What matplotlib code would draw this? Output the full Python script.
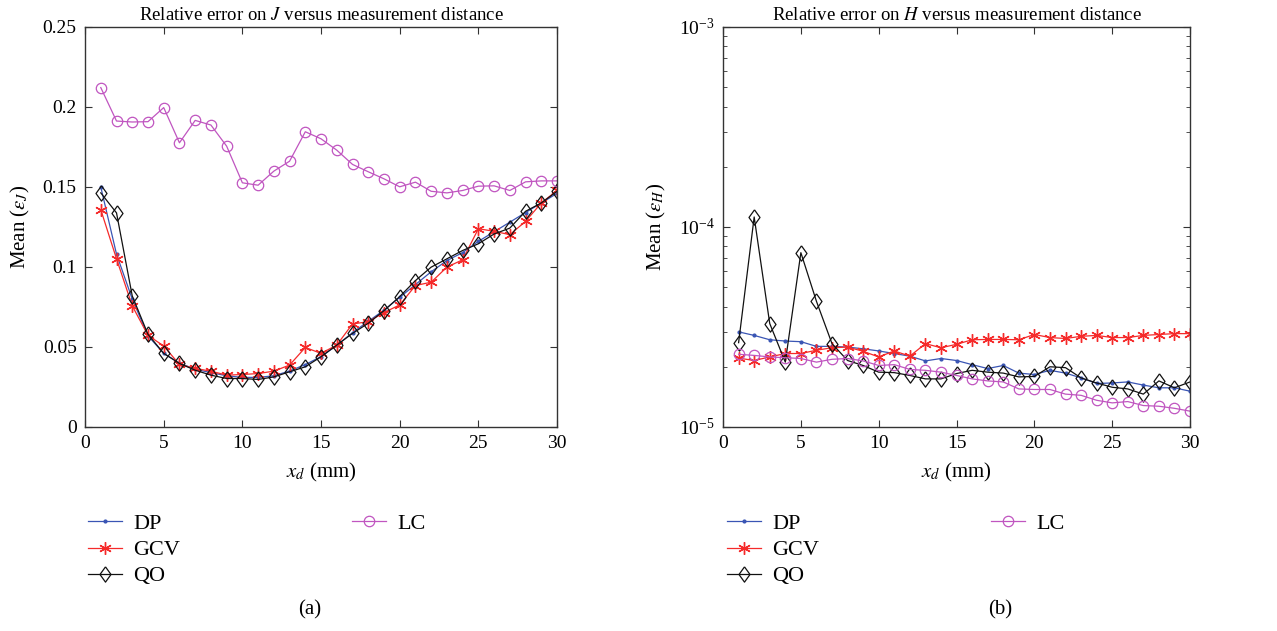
import numpy as np
import matplotlib
matplotlib.use("Agg")
import matplotlib.pyplot as plt
from matplotlib.lines import Line2D

plt.rcParams['font.family'] = ['Liberation Serif', 'DejaVu Serif']
plt.rcParams['mathtext.fontset'] = 'stix'

xd = list(range(1, 31))

# panel (a): mean relative error on J
j_dp = [0.150, 0.108, 0.080, 0.057, 0.046, 0.040, 0.036, 0.034, 0.032, 0.031,
        0.031, 0.032, 0.035, 0.039, 0.044, 0.051, 0.059, 0.066, 0.073, 0.081,
        0.089, 0.097, 0.104, 0.109, 0.116, 0.122, 0.128, 0.134, 0.140, 0.146]
j_gcv = [0.1358, 0.1051, 0.0757, 0.0573, 0.0506, 0.0391, 0.0366, 0.0349, 0.0324, 0.0328,
         0.0334, 0.0349, 0.0387, 0.0497, 0.0460, 0.0512, 0.0644, 0.0658, 0.0715, 0.0763,
         0.0884, 0.0905, 0.0999, 0.1045, 0.1239, 0.1223, 0.1202, 0.1285, 0.1400, 0.1478]
j_qo = [0.1463, 0.1338, 0.0819, 0.0579, 0.0460, 0.0397, 0.0355, 0.0324, 0.0303, 0.0303,
        0.0297, 0.0313, 0.0345, 0.0376, 0.0439, 0.0512, 0.0585, 0.0648, 0.0727, 0.0815,
        0.0915, 0.0999, 0.1051, 0.1103, 0.1145, 0.1206, 0.1243, 0.1348, 0.1400, 0.1473]
j_lc = [0.2121, 0.1912, 0.1906, 0.1908, 0.1996, 0.1776, 0.1916, 0.1887, 0.1755, 0.1526,
        0.1511, 0.1599, 0.1661, 0.1845, 0.1801, 0.1730, 0.1641, 0.1595, 0.1551, 0.1501,
        0.1530, 0.1473, 0.1463, 0.1478, 0.1505, 0.1507, 0.1478, 0.1532, 0.1538, 0.1538]

# panel (b): mean relative error on H
h_dp = [2.99e-5, 2.87e-5, 2.73e-5, 2.69e-5, 2.67e-5, 2.53e-5, 2.53e-5, 2.51e-5, 2.46e-5, 2.40e-5,
        2.33e-5, 2.26e-5, 2.14e-5, 2.20e-5, 2.15e-5, 2.05e-5, 1.96e-5, 2.03e-5, 1.86e-5, 1.83e-5,
        1.92e-5, 1.86e-5, 1.76e-5, 1.65e-5, 1.66e-5, 1.68e-5, 1.62e-5, 1.57e-5, 1.57e-5, 1.51e-5]
h_gcv = [2.21e-5, 2.15e-5, 2.24e-5, 2.33e-5, 2.33e-5, 2.42e-5, 2.49e-5, 2.51e-5, 2.39e-5, 2.24e-5,
         2.40e-5, 2.26e-5, 2.61e-5, 2.49e-5, 2.59e-5, 2.73e-5, 2.74e-5, 2.74e-5, 2.73e-5, 2.90e-5,
         2.80e-5, 2.77e-5, 2.84e-5, 2.87e-5, 2.80e-5, 2.80e-5, 2.87e-5, 2.90e-5, 2.93e-5, 2.93e-5]
h_qo = [2.64e-5, 1.122e-4, 3.29e-5, 2.11e-5, 7.44e-5, 4.25e-5, 2.61e-5, 2.15e-5, 2.03e-5, 1.88e-5,
        1.87e-5, 1.81e-5, 1.74e-5, 1.74e-5, 1.85e-5, 1.92e-5, 1.88e-5, 1.86e-5, 1.78e-5, 1.79e-5,
        2.00e-5, 1.98e-5, 1.76e-5, 1.66e-5, 1.58e-5, 1.55e-5, 1.46e-5, 1.70e-5, 1.57e-5, 1.68e-5]
h_lc = [2.31e-5, 2.28e-5, 2.24e-5, 2.22e-5, 2.20e-5, 2.11e-5, 2.18e-5, 2.20e-5, 2.14e-5, 2.03e-5,
        2.05e-5, 1.94e-5, 1.92e-5, 1.88e-5, 1.81e-5, 1.74e-5, 1.70e-5, 1.68e-5, 1.55e-5, 1.54e-5,
        1.54e-5, 1.46e-5, 1.44e-5, 1.36e-5, 1.32e-5, 1.34e-5, 1.28e-5, 1.27e-5, 1.24e-5, 1.20e-5]

labels = ['DP', 'GCV', 'QO', 'LC']
colors = ['#3a55b4', '#f52a2a', '#111111', '#c055c0']

asterisk = (6, 2, 0)
diamond = [(0, 1), (0.72, 0), (0, -1), (-0.72, 0), (0, 1)]

def styles():
    return [
        dict(color=colors[0], marker='.', ms=4, lw=0.9),
        dict(color=colors[1], marker=asterisk, ms=9, mew=1.0, lw=0.9),
        dict(color=colors[2], marker=diamond, ms=11, mfc='none', mew=0.9, lw=0.9),
        dict(color=colors[3], marker='o', ms=7.5, mfc='none', mew=0.9, lw=0.9),
    ]

def plot_panel(ax, series):
    for ys, st, lab in zip(series, styles(), labels):
        ax.plot(xd, ys, label=lab, **st)
    ax.set_xlim(0, 30)
    ax.set_xticks(range(0, 31, 5))
    ax.tick_params(direction='in', which='both', top=True, right=True, labelsize=14,
                   color='#333333', pad=6)
    ax.tick_params(which='major', length=5)
    ax.tick_params(which='minor', length=3)
    for s in ax.spines.values():
        s.set_color('#333333')
        s.set_linewidth(1.0)
    ax.set_xlabel(r'$x_d$ (mm)', fontsize=15, labelpad=6)

fig = plt.figure(figsize=(12.77, 6.31), dpi=100)
ax1 = fig.add_axes([0.0666, 0.3233, 0.3696, 0.634])
ax2 = fig.add_axes([0.5662, 0.3233, 0.3657, 0.634])

plot_panel(ax1, [j_dp, j_gcv, j_qo, j_lc])
ax1.set_ylim(0, 0.25)
ax1.set_yticks([0, 0.05, 0.1, 0.15, 0.2, 0.25])
ax1.set_yticklabels(['0', '0.05', '0.1', '0.15', '0.2', '0.25'])
ax1.set_ylabel(r'Mean ($\epsilon_J$)', fontsize=15, labelpad=8)
ax1.set_title(r'Relative error on $J$ versus measurement distance', fontsize=13.5, pad=5)

plot_panel(ax2, [h_dp, h_gcv, h_qo, h_lc])
ax2.set_yscale('log')
ax2.set_ylim(1e-5, 1e-3)
ax2.set_ylabel(r'Mean ($\epsilon_H$)', fontsize=15, labelpad=8)
ax2.set_title(r'Relative error on $H$ versus measurement distance', fontsize=13.5, pad=5)

for ax, tag, lx, tx in [(ax1, '(a)', 0.0689, 0.2428), (ax2, '(b)', 0.5693, 0.7831)]:
    h, l = ax.get_legend_handles_labels()
    blank = Line2D([], [], linestyle='none')
    h = h[:3] + [h[3], blank, blank]
    l = l[:3] + [l[3], '', '']
    fig.legend(h, l, ncol=2, loc='upper left', bbox_to_anchor=(lx, 0.186),
               frameon=False, fontsize=16, handlelength=1.55, handletextpad=0.5,
               labelspacing=0.25, columnspacing=7.7, borderpad=0, borderaxespad=0)
    fig.text(tx, 0.0333, tag, ha='center', va='center', fontsize=15)

fig.savefig('out.png', dpi=100)
